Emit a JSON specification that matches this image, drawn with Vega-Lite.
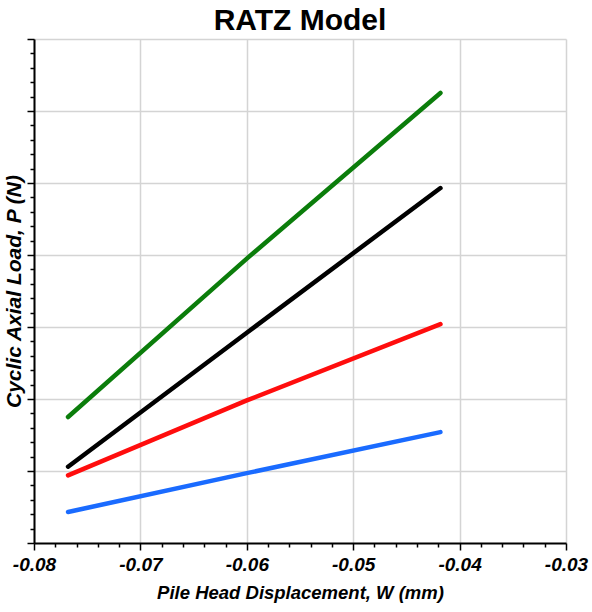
{
  "$schema": "https://vega.github.io/schema/vega-lite/v6.json",
  "width": 532,
  "height": 504,
  "autosize": {"type": "none"},
  "padding": {"left": 34, "top": 39, "right": 26, "bottom": 69},
  "background": "white",
  "title": {
    "text": "RATZ Model",
    "font": "Liberation Sans",
    "fontSize": 30,
    "fontWeight": "bold",
    "color": "black",
    "anchor": "middle",
    "offset": 2
  },
  "config": {
    "view": {"stroke": null},
    "axis": {
      "labelFont": "Liberation Sans",
      "titleFont": "Liberation Sans",
      "labelColor": "black",
      "titleColor": "black",
      "domainColor": "black",
      "domainWidth": 2,
      "tickColor": "black",
      "tickWidth": 1.5,
      "gridColor": "#d4d4d4",
      "gridWidth": 1.5
    }
  },
  "data": {
    "values": [
      {"series": "green", "w": -0.0768, "p": 1.75},
      {"series": "green", "w": -0.06, "p": 3.95},
      {"series": "green", "w": -0.0418, "p": 6.25},
      {"series": "black", "w": -0.0768, "p": 1.06},
      {"series": "black", "w": -0.06, "p": 2.92},
      {"series": "black", "w": -0.0418, "p": 4.93},
      {"series": "red", "w": -0.0768, "p": 0.94},
      {"series": "red", "w": -0.06, "p": 1.98},
      {"series": "red", "w": -0.0418, "p": 3.04},
      {"series": "blue", "w": -0.0768, "p": 0.43},
      {"series": "blue", "w": -0.06, "p": 0.97},
      {"series": "blue", "w": -0.0418, "p": 1.54}
    ]
  },
  "mark": {"type": "line", "strokeWidth": 4.5, "strokeCap": "round"},
  "encoding": {
    "x": {
      "field": "w",
      "type": "quantitative",
      "scale": {"domain": [-0.08, -0.03], "nice": false, "zero": false},
      "axis": {
        "title": "Pile Head Displacement, W (mm)",
        "titleFontSize": 18.5,
        "titleFontWeight": "bold",
        "titleFontStyle": "italic",
        "titlePadding": 9,
        "labelFontSize": 19,
        "labelFontWeight": "bold",
        "labelFontStyle": "italic",
        "labelPadding": 5,
        "labelFlush": false,
        "format": ".2f",
        "values": [-0.08, -0.078, -0.076, -0.074, -0.072, -0.07, -0.068, -0.066, -0.064, -0.062, -0.06, -0.058, -0.056, -0.054, -0.052, -0.05, -0.048, -0.046, -0.044, -0.042, -0.04, -0.038, -0.036, -0.034, -0.032, -0.03],
        "labelExpr": "abs(datum.value*100 - round(datum.value*100)) < 1e-6 ? replace(datum.label, '−', '-') : ''",
        "tickSize": {"condition": {"test": "abs(datum.value*100 - round(datum.value*100)) < 1e-6", "value": 7}, "value": 4},
        "gridOpacity": {"condition": {"test": "abs(datum.value*100 - round(datum.value*100)) < 1e-6", "value": 1}, "value": 0}
      }
    },
    "y": {
      "field": "p",
      "type": "quantitative",
      "scale": {"domain": [0, 7], "nice": false},
      "axis": {
        "title": "Cyclic Axial Load, P (N)",
        "titleFontSize": 21,
        "titleFontWeight": "bold",
        "titleFontStyle": "italic",
        "titlePadding": 2,
        "labels": false,
        "values": [0, 0.2, 0.4, 0.6, 0.8, 1, 1.2, 1.4, 1.6, 1.8, 2, 2.2, 2.4, 2.6, 2.8, 3, 3.2, 3.4, 3.6, 3.8, 4, 4.2, 4.4, 4.6, 4.8, 5, 5.2, 5.4, 5.6, 5.8, 6, 6.2, 6.4, 6.6, 6.8, 7],
        "tickSize": {"condition": {"test": "abs(datum.value - round(datum.value)) < 1e-6", "value": 7}, "value": 4},
        "gridOpacity": {"condition": {"test": "abs(datum.value - round(datum.value)) < 1e-6 && datum.value > 0", "value": 1}, "value": 0}
      }
    },
    "color": {
      "field": "series",
      "type": "nominal",
      "scale": {"domain": ["green", "black", "red", "blue"], "range": ["#0b7d0b", "#000000", "#ff0d0d", "#1a6bff"]},
      "legend": null
    }
  }
}
